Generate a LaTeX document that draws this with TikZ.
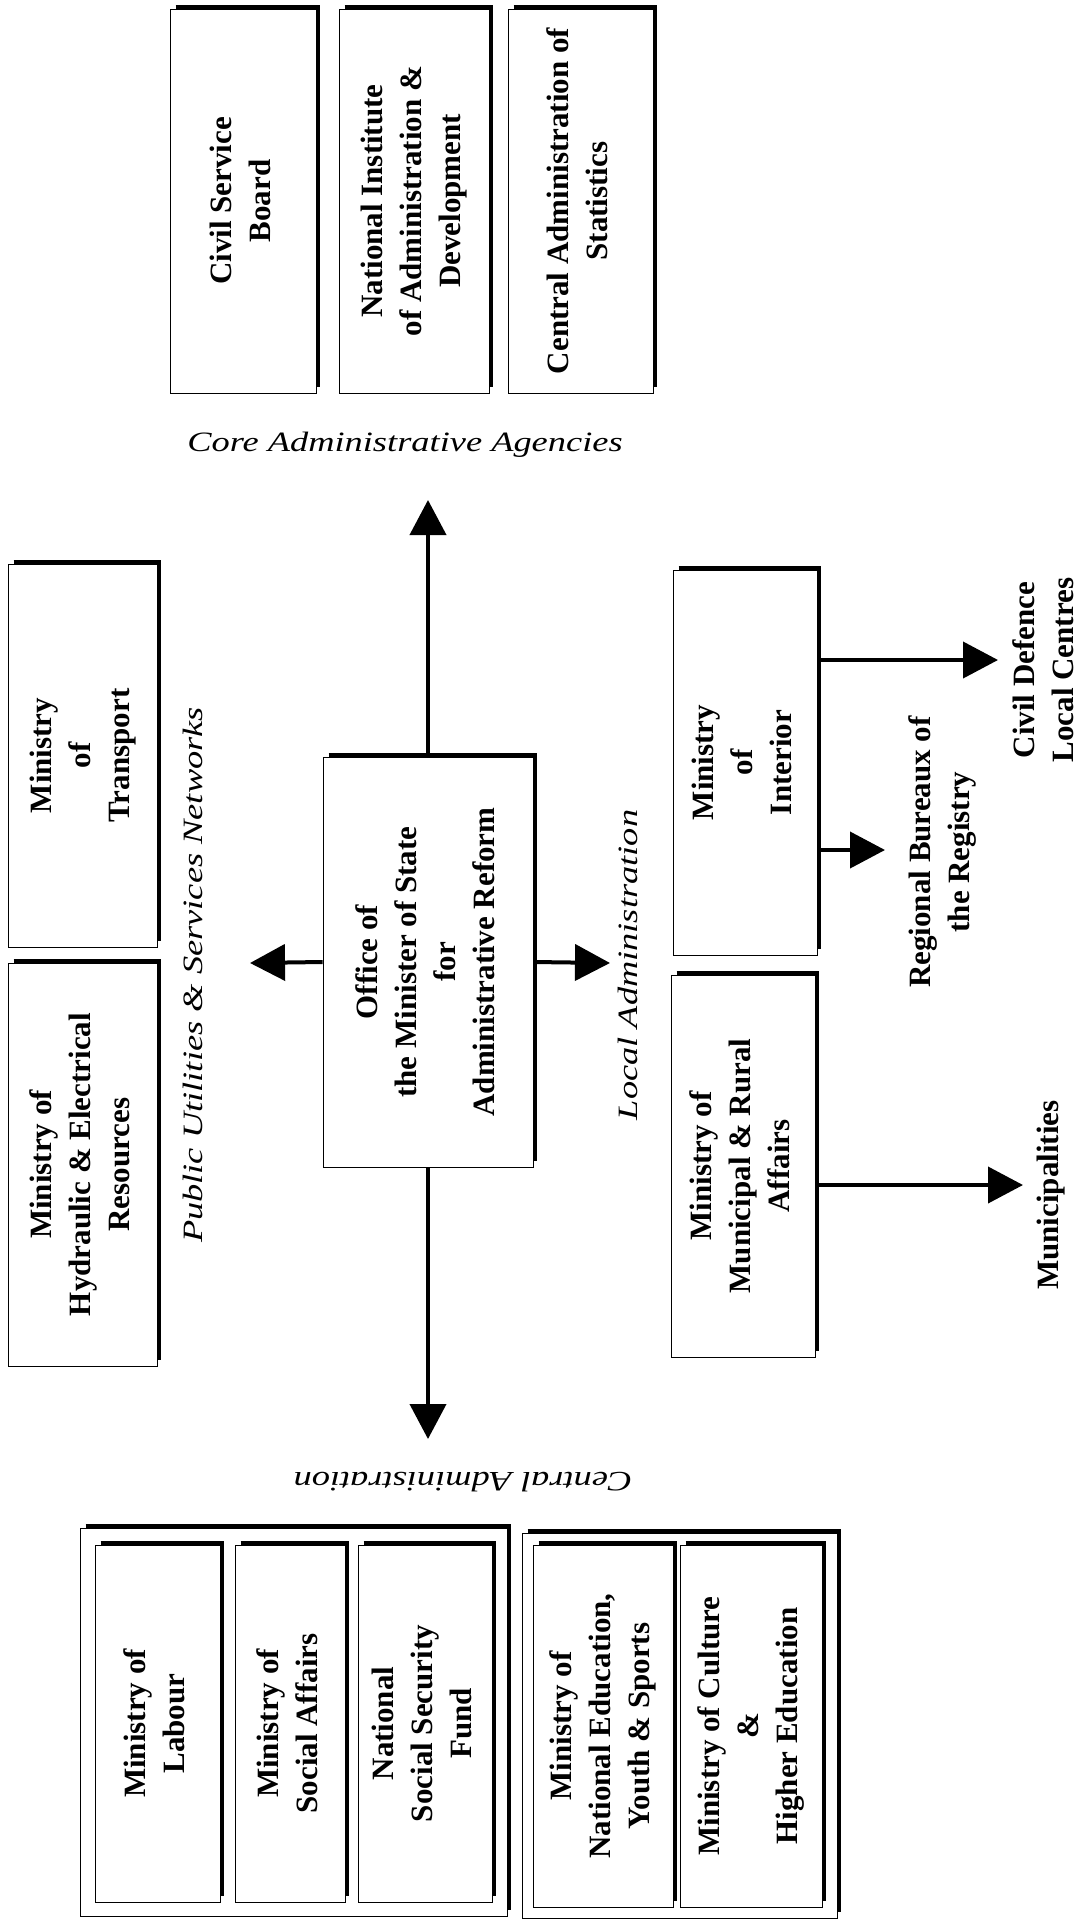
\documentclass[tikz,border=0pt]{standalone}
\usepackage{fontspec}
\setmainfont{Liberation Serif}
\usepackage{graphicx}
\usetikzlibrary{arrows.meta}
\newcommand\rtext[1]{\rotatebox{90}{\begin{tabular}{@{}c@{}}#1\end{tabular}}}
\newcommand\shadowedge[1]{\draw[shd] ([xshift=6pt,yshift=1.5pt]#1.north west) -- ([xshift=1.5pt,yshift=1.5pt]#1.north east) -- ([xshift=1.5pt,yshift=6pt]#1.south east);}
\begin{document}
\begin{tikzpicture}[x=1pt,y=-1pt,
  bx/.style={draw, line width=0.8pt, inner sep=0pt, fill=white, font=\bfseries\fontsize{31}{39}\selectfont},
  grp/.style={draw, line width=0.8pt, inner sep=0pt},
  shd/.style={line width=4pt},
  lab/.style={inner sep=0pt, font=\itshape\fontsize{28}{34}\selectfont},
  arr/.style={line width=4pt, -{Triangle[length=35pt,width=36pt]}},
  tx/.style={inner sep=0pt, font=\bfseries\fontsize{31}{39}\selectfont}]
\useasboundingbox (0,0) rectangle (1086,1920);
\fill[white] (0,0) rectangle (1086,1920);

% Core administrative agencies
\node[bx, minimum width=146pt, minimum height=384pt] (civ) at (243,201) {\rtext{Civil Service\\Board}};
\node[bx, minimum width=150pt, minimum height=384pt] (nat) at (414,201) {\rtext{National Institute\\of Administration \&\\Development}};
\node[bx, minimum width=145pt, minimum height=384pt] (sta) at (580.5,201) {\rtext{Central Administration of\\Statistics}};
\shadowedge{civ}\shadowedge{nat}\shadowedge{sta}
\node[lab] (core) at (405,445) {\scalebox{1.3}[1]{Core Administrative Agencies}};

% Public utilities
\node[bx, minimum width=149pt, minimum height=383pt] (tra) at (82.5,755.5) {\rtext{Ministry\\of\\Transport}};
\node[bx, minimum width=149pt, minimum height=403pt] (hyd) at (82.5,1164.5) {\rtext{Ministry of\\Hydraulic \& Electrical\\Resources}};
\shadowedge{tra}\shadowedge{hyd}
\node[lab] (pub) at (193,975) {\rotatebox{90}{\scalebox{1.3}[1]{Public Utilities \& Services Networks}}};

% Centre
\node[bx, minimum width=210pt, minimum height=410pt] (off) at (428,962) {\rtext{Office of\\the Minister of State\\for\\Administrative Reform}};
\shadowedge{off}

% Local administration
\node[bx, minimum width=144pt, minimum height=385pt] (int) at (745,762.5) {\rtext{Ministry\\of\\Interior}};
\node[bx, minimum width=144pt, minimum height=382pt] (mun) at (743,1166) {\rtext{Ministry of\\Municipal \& Rural\\Affairs}};
\shadowedge{int}\shadowedge{mun}
\node[lab] (loc) at (628,965) {\rotatebox{90}{\scalebox{1.3}[1]{Local Administration}}};
\node[tx] (cdl) at (1046,670) {\rtext{Civil Defence\\Local Centres}};
\node[tx] (reg) at (942,852) {\rtext{Regional Bureaux of\\the Registry}};
\node[tx] (mcp) at (1051,1195) {\rtext{Municipalities}};

% Central administration
\node[lab] (cen) at (463,1482) {\rotatebox{180}{\scalebox{1.3}[1]{Central Administration}}};
\node[grp, minimum width=427pt, minimum height=388pt] (g1) at (293.5,1722) {};
\node[grp, minimum width=315pt, minimum height=385pt] (g2) at (679.5,1725.5) {};
\shadowedge{g1}\shadowedge{g2}
\node[bx, minimum width=125pt, minimum height=357pt] (lab) at (157.5,1723.5) {\rtext{Ministry of\\Labour}};
\node[bx, minimum width=110pt, minimum height=357pt] (soc) at (290,1723.5) {\rtext{Ministry of\\Social Affairs}};
\node[bx, minimum width=134pt, minimum height=357pt] (nss) at (425,1723.5) {\rtext{National\\Social Security\\Fund}};
\node[bx, minimum width=140pt, minimum height=362pt] (ned) at (603,1726) {\rtext{Ministry of\\National Education,\\Youth \& Sports}};
\node[bx, minimum width=142pt, minimum height=362pt] (cul) at (751,1726) {\rtext{Ministry of Culture\\\&\\Higher Education}};
\shadowedge{lab}\shadowedge{soc}\shadowedge{nss}\shadowedge{ned}\shadowedge{cul}

% Arrows
\coordinate (tu) at (428,500);
\coordinate (tl) at (250,963);
\coordinate (tr) at (610,963);
\coordinate (td) at (428,1439);
\draw[arr] (off.north) -- (tu);
\draw[arr] (off.west) -- (tl);
\draw[arr] (off.east) -- (tr);
\draw[arr] (off.south) -- (td);
\coordinate (t1) at (998,660);
\coordinate (t2) at (885,850);
\coordinate (t3) at (1023,1185);
\draw[arr] (int.east |- t1) -- (t1);
\draw[arr] (int.east |- t2) -- (t2);
\draw[arr] (mun.east |- t3) -- (t3);
\end{tikzpicture}
\end{document}
